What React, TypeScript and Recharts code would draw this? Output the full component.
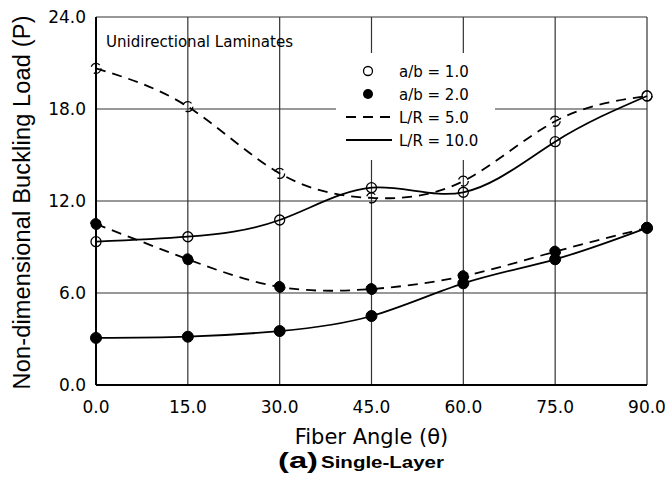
import React from 'react';
import { LineChart, Line, XAxis, YAxis, CartesianGrid, Legend, Customized } from 'recharts';

// ---- data ----
const ANGLES = [0, 15, 30, 45, 60, 75, 90];
const AB1_LR5 = [20.65, 18.15, 13.8, 12.2, 13.3, 17.2, 18.85];
const AB1_LR10 = [9.35, 9.67, 10.76, 12.87, 12.57, 15.87, 18.85];
const AB2_LR5 = [10.5, 8.2, 6.4, 6.26, 7.1, 8.7, 10.25];
const AB2_LR10 = [3.07, 3.15, 3.52, 4.5, 6.63, 8.2, 10.25];

const X_TICKS = [0, 15, 30, 45, 60, 75, 90];
const Y_TICKS = [0, 6, 12, 18, 24];

const LEGEND_LABELS = ['a/b = 1.0', 'a/b = 2.0', 'L/R = 5.0', 'L/R = 10.0'];
const ANNOTATION = 'Unidirectional Laminates';
const X_LABEL = 'Fiber Angle (\u03b8)';
const Y_LABEL = 'Non-dimensional Buckling Load (P)';
const CAPTION_A = '(a)';
const CAPTION_B = 'Single-Layer';

const data = ANGLES.map((a, i) => ({
  angle: a,
  ab1lr5: AB1_LR5[i],
  ab1lr10: AB1_LR10[i],
  ab2lr5: AB2_LR5[i],
  ab2lr10: AB2_LR10[i],
}));

const TICK_FONT = '"DejaVu Sans", Verdana, sans-serif';
const ARIAL = '"Liberation Sans", Arial, sans-serif';
const DASH = '10 7';

const XTick = (props: any) => {
  const { x, y, payload } = props;
  return (
    <text x={x} y={y + 28} textAnchor="middle" fontFamily={TICK_FONT} fontSize={17} fill="#000">
      {Number(payload.value).toFixed(1)}
    </text>
  );
};

const YTick = (props: any) => {
  const { x, y, payload } = props;
  return (
    <text x={x - 10} y={y + 6} textAnchor="end" fontFamily={TICK_FONT} fontSize={17} fill="#000">
      {Number(payload.value).toFixed(1)}
    </text>
  );
};

const LegendBox = () => (
  <svg width={159} height={107} style={{ display: 'block' }}>
    <rect x={0} y={0} width={159} height={107} fill="#fff" />
    <circle cx={32} cy={18} r={4.5} fill="none" stroke="#000" strokeWidth={1.3} />
    <circle cx={32} cy={41} r={5} fill="#000" />
    <line x1={10} y1={64} x2={56} y2={64} stroke="#000" strokeWidth={1.8} strokeDasharray={DASH} />
    <line x1={10} y1={87} x2={56} y2={87} stroke="#000" strokeWidth={1.8} />
    {LEGEND_LABELS.map((t, i) => (
      <text key={t} x={63} y={18 + 23 * i + 6} fontFamily={TICK_FONT} fontSize={15} fill="#000">
        {t}
      </text>
    ))}
  </svg>
);

const Annotations = () => (
  <g>
    <text x={106} y={46.5} fontFamily={TICK_FONT} fontSize={15.5} textLength={187} lengthAdjust="spacingAndGlyphs" fill="#000">
      {ANNOTATION}
    </text>
    <text transform="translate(30 202.5) rotate(-90)" textAnchor="middle" fontFamily={ARIAL} fontSize={23.5} textLength={374} lengthAdjust="spacing" fill="#000">
      {Y_LABEL}
    </text>
    <text x={371.5} y={444} textAnchor="middle" fontFamily={TICK_FONT} fontSize={21} fill="#000">
      {X_LABEL}
    </text>
    <text x={278} y={468} fontFamily={ARIAL} fontSize={22} fontWeight="bold" textLength={40} lengthAdjust="spacingAndGlyphs" fill="#000">
      {CAPTION_A}
    </text>
    <text x={321} y={468} fontFamily={ARIAL} fontSize={16.3} fontWeight="bold" textLength={123} lengthAdjust="spacingAndGlyphs" fill="#000">
      {CAPTION_B}
    </text>
  </g>
);

const openDot = { r: 5, fill: 'none', stroke: '#000', strokeWidth: 1.3 };
const filledDot = { r: 5.5, fill: '#000', stroke: '#000', strokeWidth: 1 };

export default function App() {
  return (
    <div style={{ position: 'absolute', left: 0, top: 0, background: '#fff' }}>
      <LineChart width={665} height={482} data={data} margin={{ top: 17, right: 18, bottom: 0, left: 0 }}>
        <CartesianGrid stroke="#333" strokeWidth={1.2} horizontalValues={Y_TICKS} verticalValues={X_TICKS} />
        <XAxis
          dataKey="angle"
          type="number"
          domain={[0, 90]}
          ticks={X_TICKS}
          height={97}
          tickLine={false}
          tickSize={0}
          tickMargin={0}
          axisLine={{ stroke: '#000', strokeWidth: 2 }}
          tick={<XTick />}
          interval={0}
        />
        <YAxis
          type="number"
          domain={[0, 24]}
          ticks={Y_TICKS}
          width={96}
          tickLine={false}
          tickSize={0}
          tickMargin={0}
          axisLine={{ stroke: '#000', strokeWidth: 2 }}
          tick={<YTick />}
          interval={0}
        />
        <Line dataKey="ab1lr5" type="natural" stroke="#000" strokeWidth={1.8} strokeDasharray={DASH} dot={openDot} isAnimationActive={false} />
        <Line dataKey="ab1lr10" type="natural" stroke="#000" strokeWidth={1.8} dot={openDot} isAnimationActive={false} />
        <Line dataKey="ab2lr5" type="natural" stroke="#000" strokeWidth={1.8} strokeDasharray={DASH} dot={filledDot} isAnimationActive={false} />
        <Line dataKey="ab2lr10" type="natural" stroke="#000" strokeWidth={1.8} dot={filledDot} isAnimationActive={false} />
        <Legend
          layout="horizontal"
          verticalAlign="middle"
          align="center"
          content={() => <LegendBox />}
          wrapperStyle={{ position: 'absolute', left: 336, top: 53, width: 159, height: 107, margin: 0, padding: 0 }}
        />
        <Customized component={Annotations} />
      </LineChart>
    </div>
  );
}
